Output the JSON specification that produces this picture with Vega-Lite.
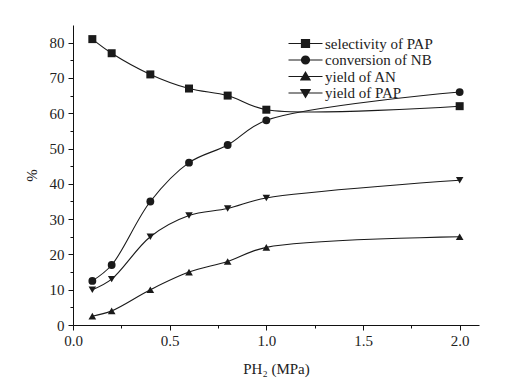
{
  "$schema": "https://vega.github.io/schema/vega-lite/v6.json",
  "autosize": {"type": "none"},
  "width": 406,
  "height": 300,
  "padding": {"left": 73, "top": 25, "right": 29, "bottom": 59},
  "background": "white",
  "config": {
    "view": {"stroke": null},
    "font": "Liberation Serif",
    "axis": {
      "domain": true,
      "domainColor": "#111",
      "domainWidth": 1,
      "tickColor": "#111",
      "tickWidth": 1,
      "labelColor": "#222",
      "titleColor": "#222",
      "labelFont": "Liberation Serif",
      "titleFont": "Liberation Serif",
      "labelFontSize": 15,
      "titleFontSize": 15,
      "titleFontWeight": "normal",
      "grid": false
    },
    "legend": {
      "labelFont": "Liberation Serif",
      "labelFontSize": 15,
      "labelColor": "#222"
    }
  },
  "data": {
    "values": [
      {"p": 0.1, "v": 81, "s": "selectivity of PAP"},
      {"p": 0.2, "v": 77, "s": "selectivity of PAP"},
      {"p": 0.4, "v": 71, "s": "selectivity of PAP"},
      {"p": 0.6, "v": 67, "s": "selectivity of PAP"},
      {"p": 0.8, "v": 65, "s": "selectivity of PAP"},
      {"p": 1.0, "v": 61, "s": "selectivity of PAP"},
      {"p": 2.0, "v": 62, "s": "selectivity of PAP"},
      {"p": 0.1, "v": 12.5, "s": "conversion of NB"},
      {"p": 0.2, "v": 17, "s": "conversion of NB"},
      {"p": 0.4, "v": 35, "s": "conversion of NB"},
      {"p": 0.6, "v": 46, "s": "conversion of NB"},
      {"p": 0.8, "v": 51, "s": "conversion of NB"},
      {"p": 1.0, "v": 58, "s": "conversion of NB"},
      {"p": 2.0, "v": 66, "s": "conversion of NB"},
      {"p": 0.1, "v": 2.5, "s": "yield of AN"},
      {"p": 0.2, "v": 4, "s": "yield of AN"},
      {"p": 0.4, "v": 10, "s": "yield of AN"},
      {"p": 0.6, "v": 15, "s": "yield of AN"},
      {"p": 0.8, "v": 18, "s": "yield of AN"},
      {"p": 1.0, "v": 22, "s": "yield of AN"},
      {"p": 2.0, "v": 25, "s": "yield of AN"},
      {"p": 0.1, "v": 10, "s": "yield of PAP"},
      {"p": 0.2, "v": 13, "s": "yield of PAP"},
      {"p": 0.4, "v": 25, "s": "yield of PAP"},
      {"p": 0.6, "v": 31, "s": "yield of PAP"},
      {"p": 0.8, "v": 33, "s": "yield of PAP"},
      {"p": 1.0, "v": 36, "s": "yield of PAP"},
      {"p": 2.0, "v": 41, "s": "yield of PAP"}
    ]
  },
  "encoding": {
    "x": {
      "field": "p", "type": "quantitative",
      "scale": {"domain": [0, 2.1], "nice": false, "zero": false},
      "axis": {
        "title": "PH₂ (MPa)",
        "values": [0, 0.25, 0.5, 0.75, 1.0, 1.25, 1.5, 1.75, 2.0],
        "labelExpr": "(datum.value * 2) % 1 == 0 ? format(datum.value, '.1f') : ''",
        "tickSize": {"condition": {"test": "(datum.value * 2) % 1 == 0", "value": 5}, "value": 3},
        "labelPadding": 3,
        "titlePadding": 13,
        "labelFlush": false,
        "labelOverlap": false
      }
    },
    "y": {
      "field": "v", "type": "quantitative",
      "scale": {"domain": [0, 85], "nice": false},
      "axis": {
        "title": "%",
        "values": [0, 5, 10, 15, 20, 25, 30, 35, 40, 45, 50, 55, 60, 65, 70, 75, 80],
        "labelExpr": "datum.value % 10 == 0 ? datum.label : ''",
        "tickSize": {"condition": {"test": "datum.value % 10 == 0", "value": 5}, "value": 3},
        "labelPadding": 4,
        "titlePadding": 10,
        "labelFlush": false,
        "labelOverlap": false
      }
    }
  },
  "layer": [
    {
      "mark": {"type": "line", "interpolate": "catmull-rom", "color": "#1a1a1a", "strokeWidth": 1.1},
      "encoding": {"detail": {"field": "s"}}
    },
    {
      "mark": {"type": "point", "filled": true, "color": "#1a1a1a", "opacity": 1},
      "encoding": {
        "shape": {
          "field": "s", "type": "nominal",
          "scale": {
            "domain": ["selectivity of PAP", "conversion of NB", "yield of AN", "yield of PAP"],
            "range": ["square", "circle", "triangle-up", "triangle-down"]
          },
          "legend": null
        },
        "size": {
          "field": "s", "type": "nominal",
          "scale": {
            "domain": ["selectivity of PAP", "conversion of NB", "yield of AN", "yield of PAP"],
            "range": [64, 56, 80, 80]
          },
          "legend": null
        }
      }
    },
    {
      "mark": {"type": "point", "filled": false, "color": "#1a1a1a", "opacity": 0, "strokeWidth": 1.2},
      "encoding": {
        "shape": {
          "field": "s", "type": "nominal",
          "scale": {
            "domain": ["selectivity of PAP", "conversion of NB", "yield of AN", "yield of PAP"],
            "range": [
              "M-4.25,0H4.25M-1,-1H1V1H-1ZM-1,-0.75H1M-1,-0.5H1M-1,-0.25H1M-1,0.25H1M-1,0.5H1M-1,0.75H1",
              "M-4.25,0H4.25M-1,0A1,1,0,1,1,1,0A1,1,0,1,1,-1,0ZM-0.97,-0.25H0.97M-0.97,0.25H0.97M-0.87,-0.5H0.87M-0.87,0.5H0.87M-0.66,-0.75H0.66M-0.66,0.75H0.66",
              "M-4.25,0H4.25M-1.15,0.85L0,-1.1L1.15,0.85ZM-0.15,-0.85H0.15M-0.3,-0.6H0.3M-0.44,-0.35H0.44M-0.59,-0.1H0.59M-0.74,0.15H0.74M-0.88,0.4H0.88M-1.03,0.65H1.03",
              "M-4.25,0H4.25M-1.15,-0.85L1.15,-0.85L0,1.1ZM-0.15,0.85H0.15M-0.3,0.6H0.3M-0.44,0.35H0.44M-0.59,0.1H0.59M-0.74,-0.15H0.74M-0.88,-0.4H0.88M-1.03,-0.65H1.03"
            ]
          },
          "legend": {
            "title": null,
            "orient": "none",
            "legendX": 225,
            "legendY": 11,
            "padding": 0,
            "symbolSize": 64,
            "symbolOpacity": 1,
            "symbolStrokeColor": "#1a1a1a",
            "symbolStrokeWidth": 1.2,
            "labelOffset": 12,
            "rowPadding": 0.5
          }
        }
      }
    }
  ],
  "resolve": {"scale": {"shape": "independent"}}
}
